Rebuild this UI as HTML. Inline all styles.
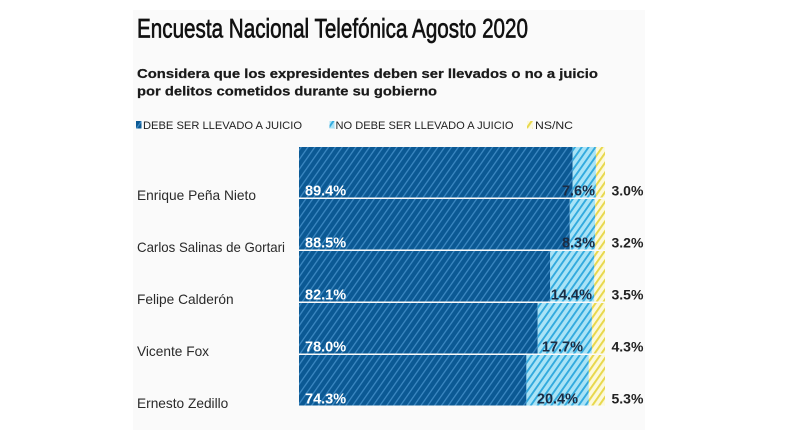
<!DOCTYPE html>
<html>
<head>
<meta charset="utf-8">
<style>
  html,body{margin:0;padding:0;background:#fff;}
  svg{display:block;}
  text{font-family:"Liberation Sans",sans-serif;}
</style>
</head>
<body>
<svg width="800" height="447" viewBox="0 0 800 447" xmlns="http://www.w3.org/2000/svg">
  <defs>
    <pattern id="pd" patternUnits="userSpaceOnUse" width="5.6" height="10" patternTransform="rotate(35)">
      <rect width="5.6" height="10" fill="#0b5994"/>
      <rect x="0" y="0" width="1.3" height="10" fill="#3b87c1"/>
    </pattern>
    <pattern id="pl" patternUnits="userSpaceOnUse" width="5.6" height="10" patternTransform="rotate(35)">
      <rect width="5.6" height="10" fill="#a9e3f6"/>
      <rect x="0" y="0" width="1.9" height="10" fill="#33aade"/>
    </pattern>
    <pattern id="py" patternUnits="userSpaceOnUse" width="5.6" height="10" patternTransform="rotate(35)">
      <rect width="5.6" height="10" fill="#fcf9dc"/>
      <rect x="0" y="0" width="2" height="10" fill="#e8d84c"/>
    </pattern>
  </defs>

  <rect x="0" y="0" width="800" height="447" fill="#ffffff"/>
  <rect x="133" y="10" width="512" height="420" fill="#fafafa"/>

  <!-- Title -->
  <text x="137" y="37.5" font-size="26.5" fill="#111" stroke="#111" stroke-width="0.65" textLength="391" lengthAdjust="spacingAndGlyphs">Encuesta Nacional Telefónica Agosto 2020</text>

  <!-- Subtitle -->
  <text x="137" y="78" font-size="13" font-weight="bold" fill="#1a1a1a" stroke="#1a1a1a" stroke-width="0.25" textLength="461" lengthAdjust="spacingAndGlyphs">Considera que los expresidentes deben ser llevados o no a juicio</text>
  <text x="137" y="95.5" font-size="13" font-weight="bold" fill="#1a1a1a" stroke="#1a1a1a" stroke-width="0.25" textLength="300" lengthAdjust="spacingAndGlyphs">por delitos cometidos durante su gobierno</text>

  <!-- Legend -->
  <rect x="136" y="121" width="5.5" height="7.5" fill="url(#pd)"/>
  <text x="143" y="129" font-size="11" fill="#222" textLength="159" lengthAdjust="spacingAndGlyphs">DEBE SER LLEVADO A JUICIO</text>
  <rect x="329.5" y="121" width="5" height="7.5" fill="url(#pl)"/>
  <text x="335.5" y="129" font-size="11" fill="#222" textLength="178" lengthAdjust="spacingAndGlyphs">NO DEBE SER LLEVADO A JUICIO</text>
  <rect x="527" y="121" width="6" height="7.5" fill="url(#py)"/>
  <text x="535" y="129" font-size="11" fill="#222" textLength="38" lengthAdjust="spacingAndGlyphs">NS/NC</text>

  <!-- Row 1 -->
  <rect x="299" y="147" width="273.6" height="50.5" fill="url(#pd)"/>
  <rect x="572.6" y="147" width="23.3" height="50.5" fill="url(#pl)"/>
  <rect x="595.9" y="147" width="9.1" height="50.5" fill="url(#py)"/>
  <!-- Row 2 -->
  <rect x="299" y="199" width="270.8" height="50.5" fill="url(#pd)"/>
  <rect x="569.8" y="199" width="25.4" height="50.5" fill="url(#pl)"/>
  <rect x="595.2" y="199" width="9.8" height="50.5" fill="url(#py)"/>
  <!-- Row 3 -->
  <rect x="299" y="251" width="251.2" height="50.5" fill="url(#pd)"/>
  <rect x="550.2" y="251" width="44.1" height="50.5" fill="url(#pl)"/>
  <rect x="594.3" y="251" width="10.7" height="50.5" fill="url(#py)"/>
  <!-- Row 4 -->
  <rect x="299" y="303" width="238.7" height="50.5" fill="url(#pd)"/>
  <rect x="537.7" y="303" width="54.2" height="50.5" fill="url(#pl)"/>
  <rect x="591.9" y="303" width="13.1" height="50.5" fill="url(#py)"/>
  <!-- Row 5 -->
  <rect x="299" y="355" width="227.4" height="50.5" fill="url(#pd)"/>
  <rect x="526.4" y="355" width="62.4" height="50.5" fill="url(#pl)"/>
  <rect x="588.8" y="355" width="16.2" height="50.5" fill="url(#py)"/>

  <!-- Names -->
  <g font-size="13.7" fill="#2a2a2a">
    <text x="137" y="200" textLength="119" lengthAdjust="spacingAndGlyphs">Enrique Peña Nieto</text>
    <text x="137" y="252" textLength="148" lengthAdjust="spacingAndGlyphs">Carlos Salinas de Gortari</text>
    <text x="137" y="304">Felipe Calderón</text>
    <text x="137" y="356">Vicente Fox</text>
    <text x="137" y="408">Ernesto Zedillo</text>
  </g>

  <!-- Left (white) labels -->
  <g font-size="14.5" font-weight="bold" fill="#ffffff">
    <text x="305" y="195.5">89.4%</text>
    <text x="305" y="247.5">88.5%</text>
    <text x="305" y="299.5">82.1%</text>
    <text x="305" y="351.5">78.0%</text>
    <text x="305" y="403.5">74.3%</text>
  </g>

  <!-- Middle labels -->
  <g font-size="14.5" font-weight="bold" fill="#1b2c44" text-anchor="end">
    <text x="595" y="195.5">7.6%</text>
    <text x="595" y="247.5">8.3%</text>
    <text x="592" y="299.5">14.4%</text>
    <text x="583" y="351.5">17.7%</text>
    <text x="578" y="403.5">20.4%</text>
  </g>

  <!-- Right labels -->
  <g font-size="14" font-weight="bold" fill="#222">
    <text x="611.5" y="195.5">3.0%</text>
    <text x="611.5" y="247.5">3.2%</text>
    <text x="611.5" y="299.5">3.5%</text>
    <text x="611.5" y="351.5">4.3%</text>
    <text x="611.5" y="403.5">5.3%</text>
  </g>
</svg>
</body>
</html>
